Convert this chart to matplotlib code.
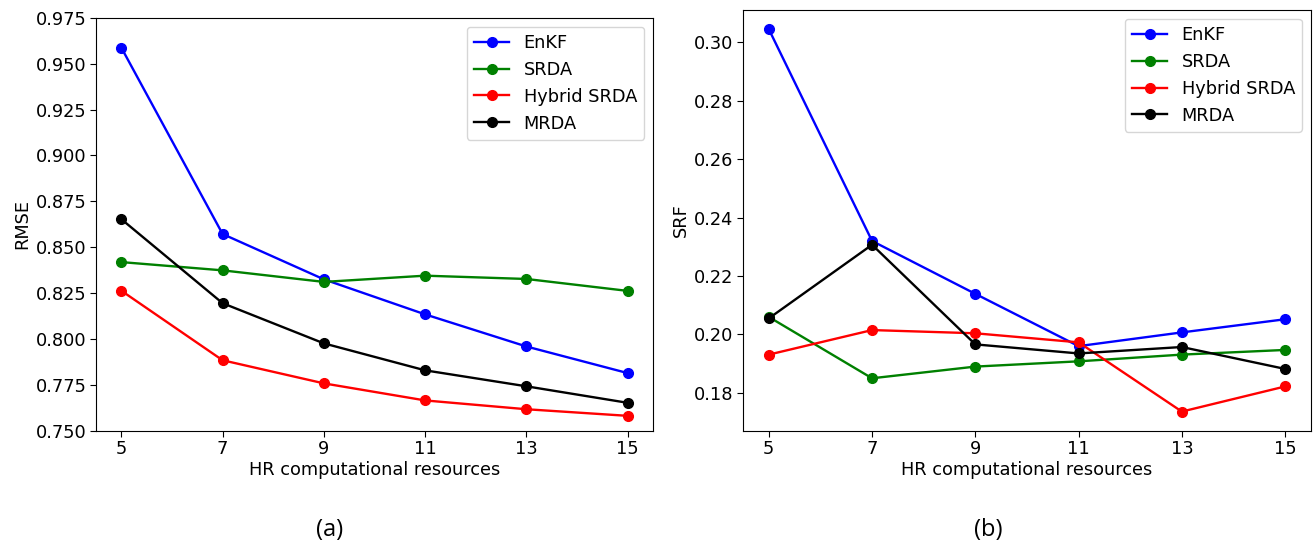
import matplotlib
matplotlib.use("Agg")
import matplotlib.pyplot as plt

x = [5, 7, 9, 11, 13, 15]
methods = ["EnKF", "SRDA", "Hybrid SRDA", "MRDA"]
colors = ["blue", "green", "red", "black"]

rmse_enkf = [0.9588, 0.8572, 0.8325, 0.8134, 0.7959, 0.7814]
rmse_srda = [0.8419, 0.8374, 0.8311, 0.8345, 0.8327, 0.8262]
rmse_hybrid = [0.8263, 0.7884, 0.7758, 0.7665, 0.7617, 0.7581]
rmse_mrda = [0.8653, 0.8195, 0.7976, 0.7829, 0.7742, 0.7652]

srf_enkf = [0.3045, 0.2320, 0.2139, 0.1960, 0.2007, 0.2052]
srf_srda = [0.2060, 0.1850, 0.1890, 0.1908, 0.1931, 0.1947]
srf_hybrid = [0.1931, 0.2015, 0.2004, 0.1973, 0.1736, 0.1822]
srf_mrda = [0.2055, 0.2307, 0.1966, 0.1935, 0.1957, 0.1882]

rmse_ticks = [0.750, 0.775, 0.800, 0.825, 0.850, 0.875, 0.900, 0.925, 0.950, 0.975]

FS = 12.8

fig = plt.figure(figsize=(13.15, 5.47), dpi=100)
ax1 = fig.add_axes([0.0730, 0.2126, 0.4236, 0.7547])
ax2 = fig.add_axes([0.5650, 0.2126, 0.4319, 0.7691])

for ax, series, ylabel in [
    (ax1, [rmse_enkf, rmse_srda, rmse_hybrid, rmse_mrda], "RMSE"),
    (ax2, [srf_enkf, srf_srda, srf_hybrid, srf_mrda], "SRF"),
]:
    for name, col, vals in zip(methods, colors, series):
        ax.plot(x, vals, marker="o", color=col, label=name, linewidth=1.7, markersize=7)
    ax.set_xticks(x)
    ax.set_xlabel("HR computational resources", fontsize=FS, labelpad=2)
    ax.set_ylabel(ylabel, fontsize=FS, labelpad=3)
    ax.tick_params(labelsize=FS, pad=2.5, length=4.5)
    ax.legend(loc="upper right", fontsize=FS)

ax1.set_ylim(0.75, 0.975)
ax1.set_yticks(rmse_ticks)
ax1.set_yticklabels([f"{t:.3f}" for t in rmse_ticks])

fig.text(330 / 1315, 1 - 530 / 547, "(a)", ha="center", va="center", fontsize=17, family="Open Sans")
fig.text(988 / 1315, 1 - 530 / 547, "(b)", ha="center", va="center", fontsize=17, family="Open Sans")

fig.savefig("out.png", dpi=100)
